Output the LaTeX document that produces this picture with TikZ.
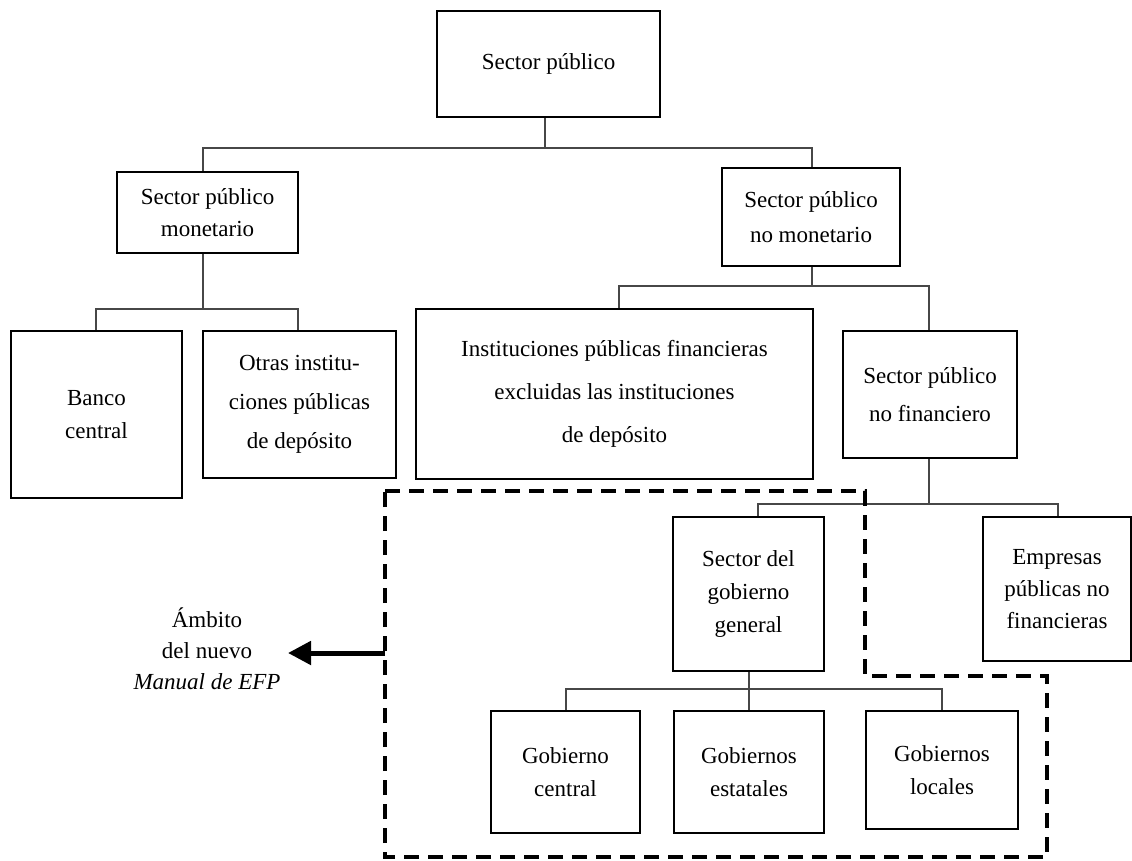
\documentclass[tikz,border=0pt]{standalone}
\usepackage{fontspec}
\setmainfont{Liberation Serif}
\usetikzlibrary{arrows.meta}
\begin{document}
\begin{tikzpicture}[x=1pt,y=-1pt,
  box/.style={draw=black, line width=2.2pt, rectangle, inner sep=0pt,
              align=center, font=\fontsize{23}{33}\selectfont},
  conn/.style={draw=black!72, line width=1.2pt},
  frame/.style={draw=black, line width=4.6pt, dash pattern=on 15pt off 9pt},
  pointer/.style={draw=black, line width=5pt,
                  -{Triangle[length=23pt,width=23pt]}}]
\useasboundingbox (0,0) rectangle (1132,860);

% boxes of the hierarchy
\node[box, minimum width=223pt, minimum height=106pt] (sp) at (548.5,64) {Sector público};
\node[box, minimum width=181pt, minimum height=81pt, font=\fontsize{23}{32}\selectfont] (mon) at (207.5,212.5) {Sector público\\monetario};
\node[box, minimum width=178pt, minimum height=98pt, font=\fontsize{23}{35}\selectfont] (nmon) at (811,217) {Sector público\\no monetario};
\node[box, minimum width=171pt, minimum height=167pt] (ban) at (96.5,414.5) {Banco\\central};
\node[box, minimum width=193pt, minimum height=147pt, font=\fontsize{23}{39}\selectfont] (otr) at (299.5,404.5) {Otras institu-\\ciones públicas\\de depósito};
\node[box, minimum width=397pt, minimum height=170pt, font=\fontsize{23}{43}\selectfont] (inst) at (614.5,394) {Instituciones públicas financieras\\excluidas las instituciones\\de depósito};
\node[box, minimum width=174pt, minimum height=127pt, font=\fontsize{23}{38}\selectfont] (nfin) at (930,394.5) {Sector público\\no financiero};
\node[box, minimum width=151pt, minimum height=154pt] (gob) at (748.5,594) {Sector del\\gobierno\\general};
\node[box, minimum width=148pt, minimum height=144pt, font=\fontsize{23}{32}\selectfont] (emp) at (1057,589) {Empresas\\públicas no\\financieras};
\node[box, minimum width=149pt, minimum height=122pt] (gc) at (565.5,772) {Gobierno\\central};
\node[box, minimum width=150pt, minimum height=122pt] (ge) at (749,772) {Gobiernos\\estatales};
\node[box, minimum width=152pt, minimum height=118pt] (gl) at (942,770) {Gobiernos\\locales};

% junction points of the connector buses
\coordinate (j0) at (545,148);
\coordinate (d1) at (203,148);
\coordinate (d2) at (812,148);
\coordinate (j1) at (203,309);
\coordinate (d3) at (96,309);
\coordinate (d4) at (298,309);
\coordinate (j2) at (812,286);
\coordinate (d5) at (619,286);
\coordinate (d6) at (929,286);
\coordinate (j3) at (929,504);
\coordinate (d7) at (758,504);
\coordinate (d8) at (1058,504);
\coordinate (j4) at (749,689);
\coordinate (d9) at (566,689);
\coordinate (d10) at (749,689);
\coordinate (d11) at (942,689);

% connectors
\draw[conn] (sp.south -| j0) -- (j0);
\draw[conn] (mon.north -| d1) -- (d1) -- (d2) -- (nmon.north -| d2);
\draw[conn] (mon.south -| j1) -- (j1);
\draw[conn] (ban.north -| d3) -- (d3) -- (d4) -- (otr.north -| d4);
\draw[conn] (nmon.south -| j2) -- (j2);
\draw[conn] (inst.north -| d5) -- (d5) -- (d6) -- (nfin.north -| d6);
\draw[conn] (nfin.south -| j3) -- (j3);
\draw[conn] (gob.north -| d7) -- (d7) -- (d8) -- (emp.north -| d8);
\draw[conn] (gob.south -| j4) -- (j4);
\draw[conn] (gc.north -| d9) -- (d9) -- (d11) -- (gl.north -| d11);
\draw[conn] (d10) -- (ge.north -| d10);

% dashed outline of the general government scope
\coordinate (f1) at (385,491);
\coordinate (f2) at (865,491);
\coordinate (f3) at (865,676);
\coordinate (f4) at (1047,676);
\coordinate (f5) at (1047,857);
\coordinate (f6) at (385,857);
\draw[frame] (f1) -- (f2) -- (f3) -- (f4) -- (f5) -- (f6) -- cycle;

% label and pointer
\node[align=center, inner sep=0pt, font=\fontsize{23}{31}\selectfont] (amb) at (207,649) {Ámbito\\del nuevo\\\textit{Manual de EFP}};
\coordinate (fw) at (385,653);
\coordinate (tip) at (288,653);
\draw[pointer] (fw) -- (tip);
\end{tikzpicture}
\end{document}
